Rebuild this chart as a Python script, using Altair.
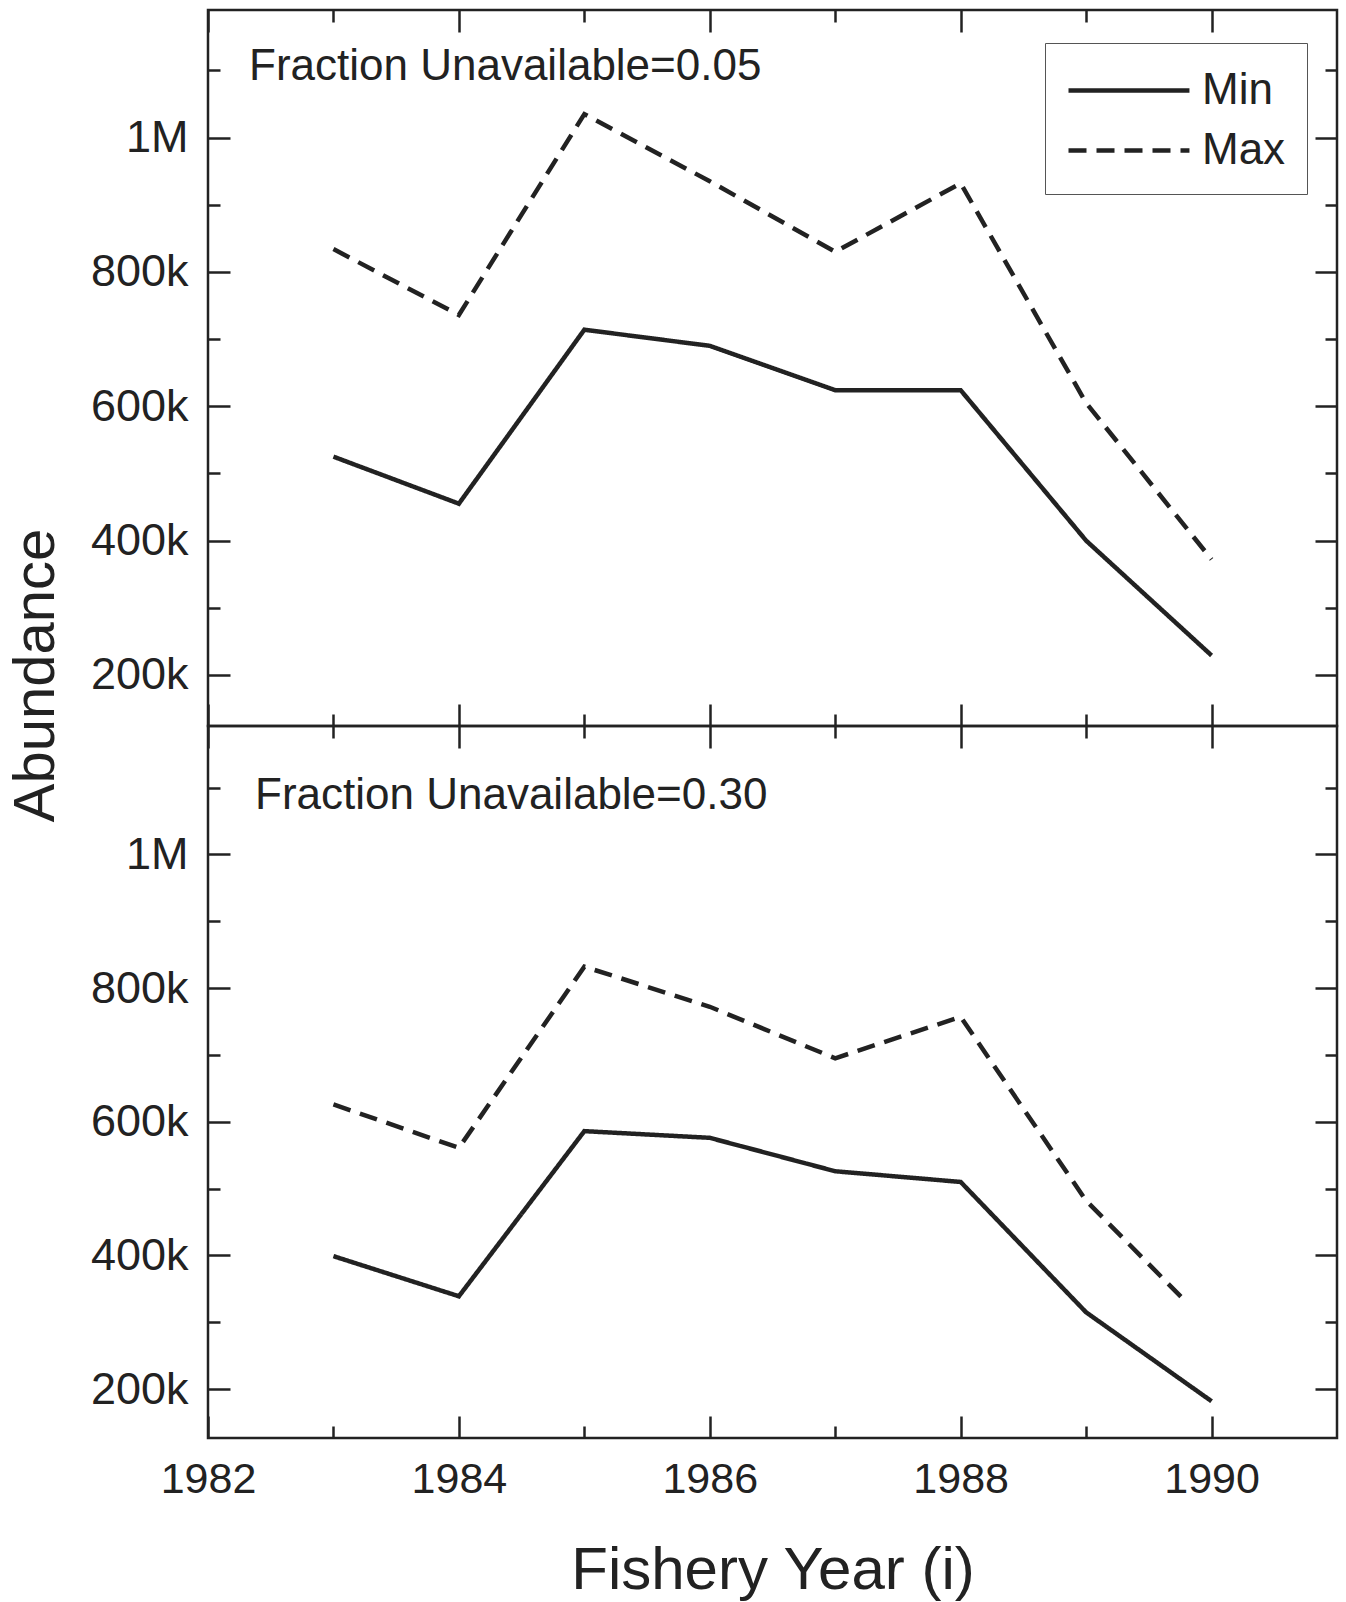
import altair as alt
import pandas as pd

FONT = "Liberation Sans"
INK = "#222222"

years = [1983, 1984, 1985, 1986, 1987, 1988, 1989, 1990]

top_min = [525000, 455000, 714000, 690000, 624000, 624000, 400000, 229000]
top_max = [834000, 736000, 1035000, 935000, 830000, 932000, 605000, 372000]

bottom_min = [399000, 339000, 586000, 576000, 526000, 510000, 315000, 182000]
bottom_max_years = [1983, 1984, 1985, 1986, 1987, 1988, 1989, 1989.8]
bottom_max = [626000, 561000, 832000, 772000, 695000, 757000, 482000, 330000]

panel_labels = ["Fraction Unavailable=0.05", "Fraction Unavailable=0.30"]
series_names = ["Min", "Max"]

y_major = [200000, 400000, 600000, 800000, 1000000]
y_minor = [300000, 500000, 700000, 900000, 1100000]
x_major = [1982, 1984, 1986, 1988, 1990]
x_minor = [1983, 1985, 1987, 1989]

MAJ, MIN_T = 22, 12
PLOT_W = 1129
Y_LABEL_EXPR = ("datum.value >= 1000000 ? format(datum.value / 1000000, 'd') + 'M'"
                " : format(datum.value / 1000, 'd') + 'k'")


def make_df(mins, max_years, maxs):
    rows = []
    for y, v in zip(years, mins):
        rows.append({"year": y, "value": v, "series": "Min"})
    for y, v in zip(max_years, maxs):
        rows.append({"year": y, "value": v, "series": "Max"})
    return pd.DataFrame(rows)


def tick_axis(orient, values, size, **kw):
    opts = dict(
        orient=orient, values=values, tickSize=size, offset=-size,
        labels=False, domain=False, grid=False, ticks=True,
        tickColor=INK, tickWidth=2.5, title=None,
    )
    opts.update(kw)
    return alt.Axis(**opts)


def panel(df, label, label_xy, y_domain, height, first):
    xs = alt.Scale(domain=[1982, 1991], nice=False, zero=False)
    ys = alt.Scale(domain=y_domain, nice=False, zero=False)
    base = alt.Chart(df)

    if first:
        legend = alt.Legend(
            orient="none", legendX=837, legendY=33, title=None,
            symbolType="M-1,0H4.04", symbolSize=2304, symbolStrokeWidth=4.5,
            symbolStrokeColor=INK, symbolFillColor="transparent",
            labelFont=FONT, labelFontSize=44, labelColor=INK,
            padding=21, strokeColor="#555555", fillColor="white",
            rowPadding=11, labelOffset=83,
        )
    else:
        legend = None

    lines = base.mark_line(color=INK, strokeWidth=4.5).encode(
        x=alt.X("year:Q", scale=xs, axis=None),
        y=alt.Y("value:Q", scale=ys, axis=None),
        strokeDash=alt.StrokeDash(
            "series:N",
            scale=alt.Scale(domain=series_names, range=[[1, 0], [18, 10]]),
            legend=legend,
        ),
    )

    def ax(x_axis=None, y_axis=None):
        return base.mark_point(opacity=0).encode(
            x=alt.X("year:Q", scale=xs, axis=x_axis),
            y=alt.Y("value:Q", scale=ys, axis=y_axis),
        )

    y_lab = dict(labels=True, labelExpr=Y_LABEL_EXPR, labelPadding=20,
                 labelFont=FONT, labelFontSize=45, labelColor=INK)
    if first:
        y_lab.update(
            title="Abundance", titleFont=FONT, titleFontSize=58,
            titleFontWeight="normal", titleColor=INK, titleAngle=270,
            titleX=-194, titleY=665, titleAlign="center",
            titleBaseline="middle",
        )
    left_major = tick_axis("left", y_major, MAJ, **y_lab)

    if first:
        bottom_major = tick_axis("bottom", x_major, MAJ)
    else:
        bottom_major = tick_axis(
            "bottom", x_major, MAJ, labels=True, format="d", labelFlush=False,
            labelPadding=20, labelFont=FONT, labelFontSize=43, labelColor=INK,
            title="Fishery Year (i)", titleFont=FONT, titleFontSize=60,
            titleFontWeight="normal", titleColor=INK, titleY=172,
            titleBaseline="alphabetic",
        )

    layers = [
        lines,
        ax(y_axis=left_major),
        ax(y_axis=tick_axis("left", y_minor, MIN_T)),
        ax(y_axis=tick_axis("right", y_major, MAJ)),
        ax(y_axis=tick_axis("right", y_minor, MIN_T)),
        ax(x_axis=bottom_major),
        ax(x_axis=tick_axis("bottom", x_minor, MIN_T)),
        ax(x_axis=tick_axis("top", x_major, MAJ)),
        ax(x_axis=tick_axis("top", x_minor, MIN_T)),
        alt.Chart(pd.DataFrame({"label": [label]})).mark_text(
            align="left", baseline="alphabetic", fontSize=44, font=FONT,
            color=INK,
        ).encode(
            text="label:N", x=alt.value(label_xy[0]), y=alt.value(label_xy[1])
        ),
    ]
    return alt.layer(*layers).resolve_axis(
        x="independent", y="independent"
    ).properties(width=PLOT_W, height=height)


top = panel(make_df(top_min, years, top_max), panel_labels[0], (41, 70),
            [124000, 1190000], 716, True)
bottom = panel(make_df(bottom_min, bottom_max_years, bottom_max),
               panel_labels[1], (47, 83), [127000, 1192000], 712, False)

chart = alt.vconcat(top, bottom, spacing=0, bounds="flush").resolve_scale(
    x="independent", y="independent", strokeDash="independent"
).resolve_axis(x="independent", y="independent").resolve_legend(
    strokeDash="independent"
).configure_view(stroke=INK, strokeWidth=2.5).properties(
    padding={"left": 5, "top": 7, "right": 0, "bottom": 0},
    background="white",
)

chart.save("out.html", embed_options={"renderer": "svg", "actions": False})
